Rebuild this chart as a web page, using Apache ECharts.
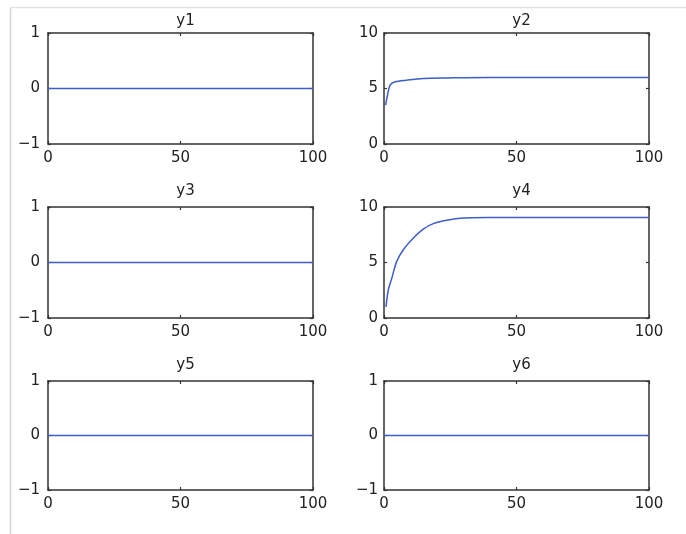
<!DOCTYPE html>
<html><head><meta charset="utf-8">
<script src="https://cdn.jsdelivr.net/npm/echarts@6/dist/echarts.min.js"></script>
<style>html,body{margin:0;padding:0;background:#fff}#c{width:686px;height:534px}</style>
</head><body><div id="c"></div>
<script>
const titles = ['y1','y2','y3','y4','y5','y6'];
const zeroX = [0, 100];
const zeroY = [0, 0];
const y2X = [0.6, 1.25, 2.3, 4.2, 8.6, 14.9, 23.7, 40, 100];
const y2Y = [3.5, 4.3, 5.3, 5.6, 5.75, 5.9, 5.95, 6, 6];
const y4X = [0.75, 1.6, 2.9, 4.8, 7.3, 11.1, 14.8, 18.6, 23.7, 29.9, 38.8, 50, 100];
const y4Y = [1.0, 2.5, 3.55, 5.1, 6.15, 7.2, 8.0, 8.5, 8.8, 9.0, 9.05, 9.05, 9.05];
const xTicks = [0, 50, 100];
const ySmall = {min: -1, max: 1, interval: 1};
const yBig = {min: 0, max: 10, interval: 5};

const panels = [
  {x: zeroX, y: zeroY, yr: ySmall},
  {x: y2X, y: y2Y, yr: yBig},
  {x: zeroX, y: zeroY, yr: ySmall},
  {x: y4X, y: y4Y, yr: yBig},
  {x: zeroX, y: zeroY, yr: ySmall},
  {x: zeroX, y: zeroY, yr: ySmall}
];
const lefts = [48, 384];
const tops = [33, 207, 381];
const heights = [111, 111, 109];
const titleTops = [9, 179, 353];
const font = 'DejaVu Sans';
const axisCol = '#333';
const fmt = v => String(v).replace('-', '\u2212');

const grid = [], xAxis = [], yAxis = [], series = [], title = [];
panels.forEach((p, i) => {
  const r = Math.floor(i / 2), c = i % 2;
  grid.push({left: lefts[c], top: tops[r], width: 265, height: heights[r], containLabel: false});
  title.push({text: titles[i], left: lefts[c] + 132.5, top: titleTops[r], textAlign: 'center',
    textStyle: {fontFamily: font, fontSize: 15, fontWeight: 'normal', color: '#222'}});
  const lineStyle = {color: axisCol, width: 1.5};
  const baseX = {type: 'value', gridIndex: i, min: 0, max: 100, interval: 50,
    axisLine: {show: true, lineStyle}, splitLine: {show: false},
    axisTick: {show: true, inside: true, length: 3, lineStyle: {color: axisCol, width: 1.2}}};
  xAxis.push(Object.assign({}, baseX, {position: 'bottom',
    axisLabel: {show: true, margin: 7, fontFamily: font, fontSize: 15, color: '#222', formatter: fmt}}));
  xAxis.push(Object.assign({}, baseX, {position: 'top', axisLabel: {show: false}}));
  const baseY = {type: 'value', gridIndex: i, min: p.yr.min, max: p.yr.max, interval: p.yr.interval,
    axisLine: {show: true, onZero: false, lineStyle}, splitLine: {show: false},
    axisTick: {show: true, inside: true, length: 3, lineStyle: {color: axisCol, width: 1.2}}};
  yAxis.push(Object.assign({}, baseY, {position: 'left',
    axisLabel: {show: true, margin: c === 0 ? 8 : 6, fontFamily: font, fontSize: 15, color: '#222', formatter: fmt}}));
  yAxis.push(Object.assign({}, baseY, {position: 'right', axisLabel: {show: false}}));
  series.push({type: 'line', xAxisIndex: 2 * i, yAxisIndex: 2 * i, showSymbol: false, symbol: 'none',
    smooth: p.x.length > 2 ? 0.3 : false, z: 1,
    lineStyle: {color: '#3c5ec6', width: 1.5},
    data: p.x.map((v, k) => [v, p.y[k]])});
});
xAxis.forEach(a => { a.axisLine.onZero = false; });

const chart = echarts.init(document.getElementById('c'), null, {renderer: 'canvas'});
chart.setOption({
  backgroundColor: '#fff',
  animation: false,
  title, grid, xAxis, yAxis, series,
  graphic: [
    {type: 'line', shape: {x1: 10.5, y1: 7.5, x2: 10.5, y2: 534}, style: {stroke: '#d4d4d4', lineWidth: 1.5}},
    {type: 'line', shape: {x1: 10.5, y1: 7.5, x2: 686, y2: 7.5}, style: {stroke: '#e4e4e4', lineWidth: 1.5}}
  ]
});
</script></body></html>
